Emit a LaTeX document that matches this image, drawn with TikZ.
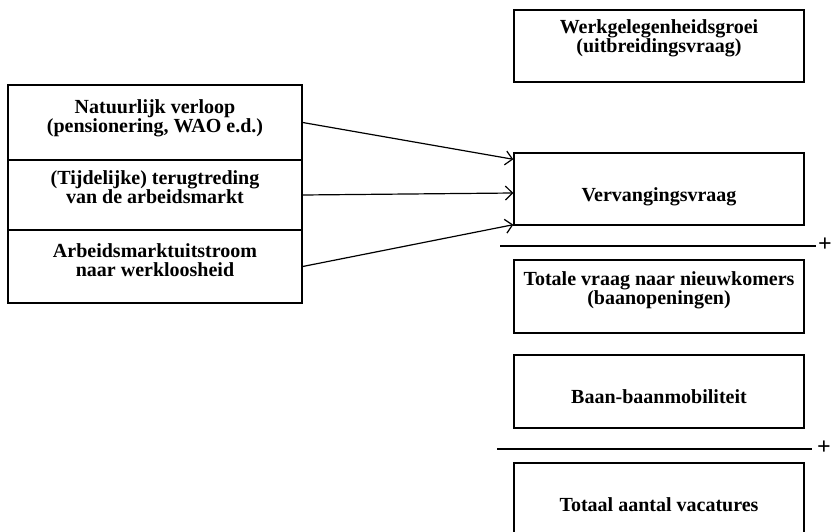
\documentclass[tikz,border=0pt]{standalone}
\usepackage{fontspec}
\setmainfont{Liberation Serif}
\usetikzlibrary{arrows.meta}
\begin{document}
\begin{tikzpicture}[x=1pt,y=-1pt,
  box/.style={draw, line width=1.4pt, inner sep=0pt, rectangle},
  txt/.style={align=center, inner sep=0pt, font=\fontsize{20}{19}\selectfont\bfseries},
  arr/.style={line width=1.2pt, -{Straight Barb[length=7pt,width=14pt,line width=1.2pt]}},
  sumline/.style={line width=1.3pt},
  plus/.style={inner sep=0pt, font=\fontsize{24}{24}\selectfont\bfseries}]
\useasboundingbox (0,0) rectangle (832,532);
% left stacked cells
\node[box, minimum width=294pt, minimum height=75pt] (c1) at (155,122.5) {};
\node[box, minimum width=294pt, minimum height=70pt] (c2) at (155,195) {};
\node[box, minimum width=294pt, minimum height=73pt] (c3) at (155,266.5) {};
\node[txt] (tc1) at (155,118) {Natuurlijk verloop\\(pensionering, WAO e.d.)};
\node[txt] (tc2) at (155,187) {(Tijdelijke) terugtreding\\van de arbeidsmarkt};
\node[txt] (tc3) at (155,260) {Arbeidsmarktuitstroom\\naar werkloosheid};
% right boxes
\node[box, minimum width=290pt, minimum height=72pt] (b1) at (659,46) {};
\node[box, minimum width=290pt, minimum height=72pt] (b2) at (659,189) {};
\node[box, minimum width=290pt, minimum height=73pt] (b3) at (659,296.5) {};
\node[box, minimum width=290pt, minimum height=73pt] (b4) at (659,391.5) {};
\node[box, minimum width=290pt, minimum height=90pt] (b5) at (659,508) {};
\node[txt] (tb1) at (659,38) {Werkgelegenheidsgroei\\(uitbreidingsvraag)};
\node[txt] (tb2) at (659,197) {Vervangingsvraag};
\node[txt] (tb3) at (659,290) {Totale vraag naar nieuwkomers\\(baanopeningen)};
\node[txt] (tb4) at (659,397) {Baan-baanmobiliteit};
\node[txt] (tb5) at (659,505) {Totaal aantal vacatures};
% arrows
\draw[arr] (c1.east) -- ([yshift=-7pt]b2.north west);
\draw[arr] (c2.east) -- ([yshift=-4pt]b2.west);
\draw[arr] (c3.east) -- ([yshift=1pt]b2.south west);
% sum lines
\coordinate (l1a) at (500,246);
\coordinate (l1b) at (816,246);
\coordinate (l2a) at (497,449);
\coordinate (l2b) at (812,449);
\draw[sumline] (l1a) -- (l1b);
\draw[sumline] (l2a) -- (l2b);
\node[plus] (p1) at (825,245) {+};
\node[plus] (p2) at (824,448) {+};
\end{tikzpicture}
\end{document}
